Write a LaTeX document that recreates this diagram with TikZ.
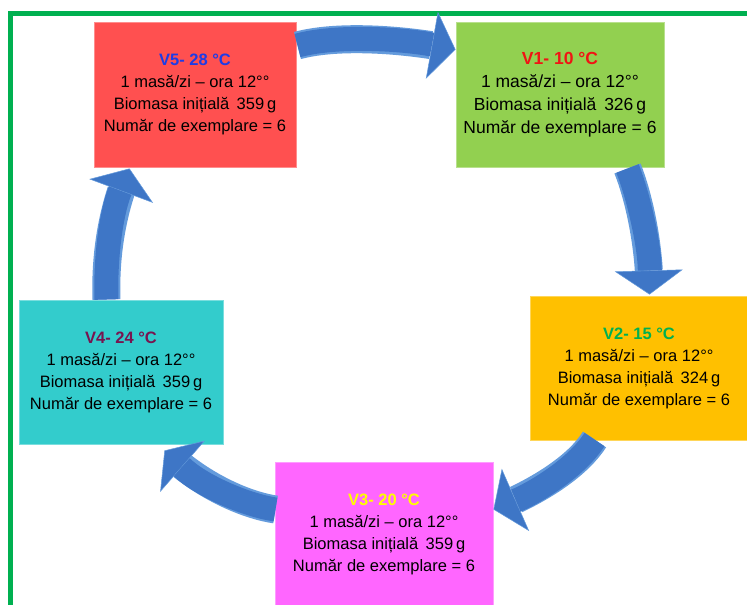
\documentclass[tikz,border=0pt]{standalone}
\usepackage{fontspec}
\setmainfont{Liberation Sans}
\usetikzlibrary{arrows.meta,bending,calc}

\definecolor{gborder}{RGB}{0,176,80}
\definecolor{c5}{RGB}{255,80,80}
\definecolor{c1}{RGB}{146,208,80}
\definecolor{c2}{RGB}{255,192,0}
\definecolor{c3}{RGB}{255,102,255}
\definecolor{c4}{RGB}{51,204,204}
\definecolor{t5}{RGB}{30,60,230}
\definecolor{t1}{RGB}{240,20,20}
\definecolor{t2}{RGB}{0,176,80}
\definecolor{t3}{RGB}{255,255,0}
\definecolor{t4}{RGB}{120,20,80}
\definecolor{arrowedge}{RGB}{100,155,220}
\definecolor{arrowblue}{RGB}{62,118,198}

\begin{document}
\begin{tikzpicture}[x=1pt,y=-1pt,
  box/.style={rectangle, inner sep=0pt, align=center,
    font=\fontsize{16.5}{22}\selectfont, draw=#1!65!white, line width=1pt, fill=#1},
  bigbox/.style={box=#1, font=\fontsize{17.5}{23}\selectfont},
  blockarrow/.style={line width=28pt, draw=arrowedge,
    -{Triangle[width=68pt,length=24pt,line width=0.5pt,fill=arrowblue,color=arrowedge]},
    postaction={draw=arrowblue, line width=24pt, -, shorten >=24pt}},
  border/.style={draw=gborder, line width=5pt}
]
\useasboundingbox (0,0) rectangle (747,605);
\clip (0,0) rectangle (747,605);
\fill[white] (0,0) rectangle (747,605);
\draw[border] (10,13) rectangle (780,640);

\node[box=c5, minimum width=202pt, minimum height=145pt] (v5) at (195,94.5)
  {\textbf{\color{t5}V5- 28 °C}\\1 masă/zi – ora 12°°\\Biomasa inițială\hspace{0.45em}359\,g\\Număr de exemplare = 6};
\node[bigbox=c1, minimum width=208pt, minimum height=145pt] (v1) at (560,94.5)
  {\textbf{\color{t1}V1- 10 °C}\\1 masă/zi – ora 12°°\\Biomasa inițială\hspace{0.45em}326\,g\\Număr de exemplare = 6};
\node[box=c2, minimum width=218pt, minimum height=144pt] (v2) at (639,368)
  {\textbf{\color{t2}V2- 15 °C}\\1 masă/zi – ora 12°°\\Biomasa inițială\hspace{0.45em}324\,g\\Număr de exemplare = 6};
\node[box=c3, minimum width=218pt, minimum height=145pt] (v3) at (384,534.5)
  {\textbf{\color{t3}V3- 20 °C}\\1 masă/zi – ora 12°°\\Biomasa inițială\hspace{0.45em}359\,g\\Număr de exemplare = 6};
\node[box=c4, minimum width=204pt, minimum height=144pt] (v4) at (121,372)
  {\textbf{\color{t4}V4- 24 °C}\\1 masă/zi – ora 12°°\\Biomasa inițială\hspace{0.45em}359\,g\\Număr de exemplare = 6};

\coordinate (a5) at ($(v5.north east)+(1,24)$);
\coordinate (b1) at ($(v1.north west)+(0,28)$);
\coordinate (a1) at ($(v1.south east)+(-37,1)$);
\coordinate (b2) at ($(v2.north west)+(120,-1)$);
\coordinate (a2) at ($(v2.south west)+(65,-1)$);
\coordinate (b3) at ($(v3.north east)+(0,48)$);
\coordinate (a3) at ($(v3.north west)+(1,48)$);
\coordinate (b4) at ($(v4.south west)+(146,6)$);
\coordinate (a4) at ($(v4.north west)+(88,0)$);
\coordinate (b5) at ($(v5.south west)+(36,1)$);

\draw[blockarrow] (a5) .. controls (340,34) and (410,40) .. (b1);
\draw[blockarrow] (a1) .. controls (640,200) and (650,250) .. (b2);
\draw[blockarrow] (a2) .. controls (575,470) and (530,495) .. (b3);
\draw[blockarrow] (a3) .. controls (245,505) and (200,485) .. (b4);
\draw[blockarrow] (a4) .. controls (105,255) and (112,210) .. (b5);
\end{tikzpicture}
\end{document}
